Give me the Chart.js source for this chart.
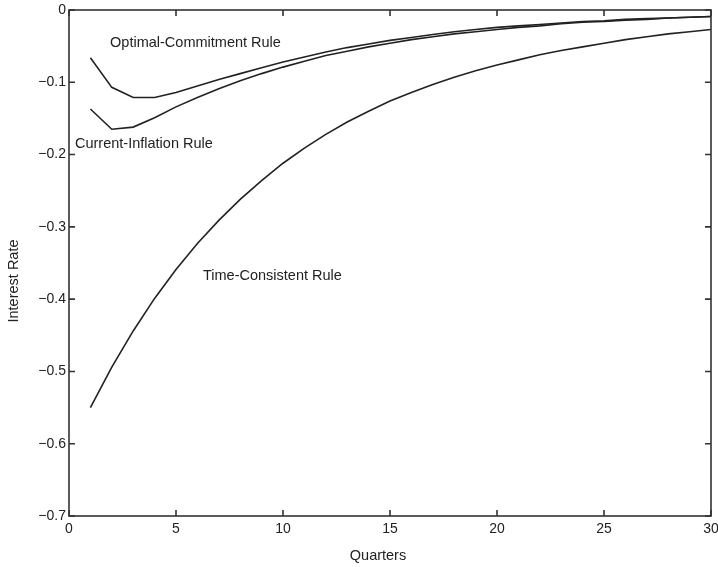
<!DOCTYPE html>
<html>
<head>
<meta charset="utf-8">
<script src="https://cdn.jsdelivr.net/npm/chart.js@4/dist/chart.umd.min.js"></script>
<style>
	html, body { margin: 0; padding: 0; background: #fff; }
	#wrap { width: 718px; height: 567px; }
</style>
</head>
<body>
<div id="wrap"><canvas id="chart" width="718" height="567"></canvas></div>
<script>
var quarters = [1,2,3,4,5,6,7,8,9,10,11,12,13,14,15,16,17,18,19,20,21,22,23,24,25,26,27,28,29,30]

var optimalCommitment = [-0.066,-0.107,-0.121,-0.121,-0.114,-0.105,-0.096,-0.088,-0.080,-0.072,
	-0.065,-0.058,-0.052,-0.047,-0.042,-0.038,-0.034,-0.030,-0.027,-0.024,
	-0.022,-0.020,-0.018,-0.016,-0.015,-0.013,-0.012,-0.011,-0.010,-0.009]

var currentInflation = [-0.137,-0.165,-0.162,-0.149,-0.134,-0.121,-0.109,-0.098,-0.088,-0.079,
	-0.071,-0.063,-0.057,-0.051,-0.046,-0.041,-0.037,-0.033,-0.030,-0.027,
	-0.024,-0.022,-0.019,-0.017,-0.016,-0.014,-0.013,-0.011,-0.010,-0.009]

var timeConsistent = [-0.550,-0.494,-0.444,-0.399,-0.359,-0.323,-0.291,-0.262,-0.236,-0.212,
	-0.191,-0.172,-0.155,-0.140,-0.126,-0.114,-0.103,-0.093,-0.084,-0.076,
	-0.069,-0.062,-0.056,-0.051,-0.046,-0.041,-0.037,-0.033,-0.030,-0.027]

// curve labels, anchored in data units (left edge, middle of text)
var curveLabels = [
	{ text: "Optimal-Commitment Rule", x: 1.92, y: -0.046 },
	{ text: "Current-Inflation Rule", x: 0.28, y: -0.185 },
	{ text: "Time-Consistent Rule", x: 6.26, y: -0.368 }
]

var xTitle = "Quarters"
var yTitle = "Interest Rate"

var FONT = "'Liberation Sans', Arial, Helvetica, sans-serif"
var INK = "#222"

function toPoints(ys) {
	return quarters.map(function (q, i) { return { x: q, y: ys[i] } })
}

function lineSet(label, ys) {
	return {
		label: label,
		data: toPoints(ys),
		borderColor: INK,
		borderWidth: 1.6,
		pointRadius: 0,
		tension: 0,
		fill: false
	}
}

// matlab style: box round the plot, ticks pointing inward on all sides
var boxTicks = {
	id: "boxTicks",
	afterDatasetsDraw: function (chart) {
		var ctx = chart.ctx, a = chart.chartArea
		var xs = chart.scales.x, ys = chart.scales.y
		var len = 6
		ctx.save()
		ctx.strokeStyle = "#333"
		ctx.lineWidth = 1.6
		ctx.strokeRect(a.left, a.top, a.right - a.left, a.bottom - a.top)
		ctx.beginPath()
		xs.ticks.forEach(function (t) {
			var px = xs.getPixelForValue(t.value)
			ctx.moveTo(px, a.bottom); ctx.lineTo(px, a.bottom - len)
			ctx.moveTo(px, a.top); ctx.lineTo(px, a.top + len)
		})
		ys.ticks.forEach(function (t) {
			var py = ys.getPixelForValue(t.value)
			ctx.moveTo(a.left, py); ctx.lineTo(a.left + len, py)
			ctx.moveTo(a.right, py); ctx.lineTo(a.right - len, py)
		})
		ctx.stroke()

		ctx.fillStyle = INK
		ctx.font = "14.5px " + FONT
		ctx.textAlign = "left"
		ctx.textBaseline = "middle"
		curveLabels.forEach(function (l) {
			ctx.fillText(l.text, xs.getPixelForValue(l.x), ys.getPixelForValue(l.y))
		})

		// axis titles
		ctx.textAlign = "center"
		ctx.fillText(xTitle, 378, 556)
		ctx.translate(14, 281)
		ctx.rotate(-Math.PI / 2)
		ctx.fillText(yTitle, 0, 0)
		ctx.restore()
	}
}

new Chart(document.getElementById("chart"), {
	type: "line",
	data: {
		datasets: [
			lineSet("Optimal-Commitment Rule", optimalCommitment),
			lineSet("Current-Inflation Rule", currentInflation),
			lineSet("Time-Consistent Rule", timeConsistent)
		]
	},
	options: {
		responsive: false,
		animation: false,
		layout: { padding: { top: 10, right: 7, left: 0, bottom: 0 } },
		plugins: { legend: { display: false }, tooltip: { enabled: false } },
		scales: {
			x: {
				type: "linear",
				min: 0, max: 30,
				grid: { display: false, drawTicks: false },
				border: { display: false },
				ticks: { stepSize: 5, color: INK, font: { family: FONT, size: 14 }, padding: 5, maxRotation: 0 },
				afterFit: function (s) { s.height = 51; s.paddingLeft = 0; s.paddingRight = 0 }
			},
			y: {
				min: -0.7, max: 0,
				grid: { display: false, drawTicks: false },
				border: { display: false },
				ticks: {
					stepSize: 0.1, color: INK, font: { family: FONT, size: 14 }, padding: 3,
					callback: function (v) {
						var r = Math.round(v * 10) / 10
						return r === 0 ? "0" : r.toFixed(1).replace("-", "\u2212")
					}
				},
				afterFit: function (s) { s.width = 69; s.paddingTop = 0; s.paddingBottom = 0 }
			}
		}
	},
	plugins: [boxTicks]
})
</script>
</body>
</html>
